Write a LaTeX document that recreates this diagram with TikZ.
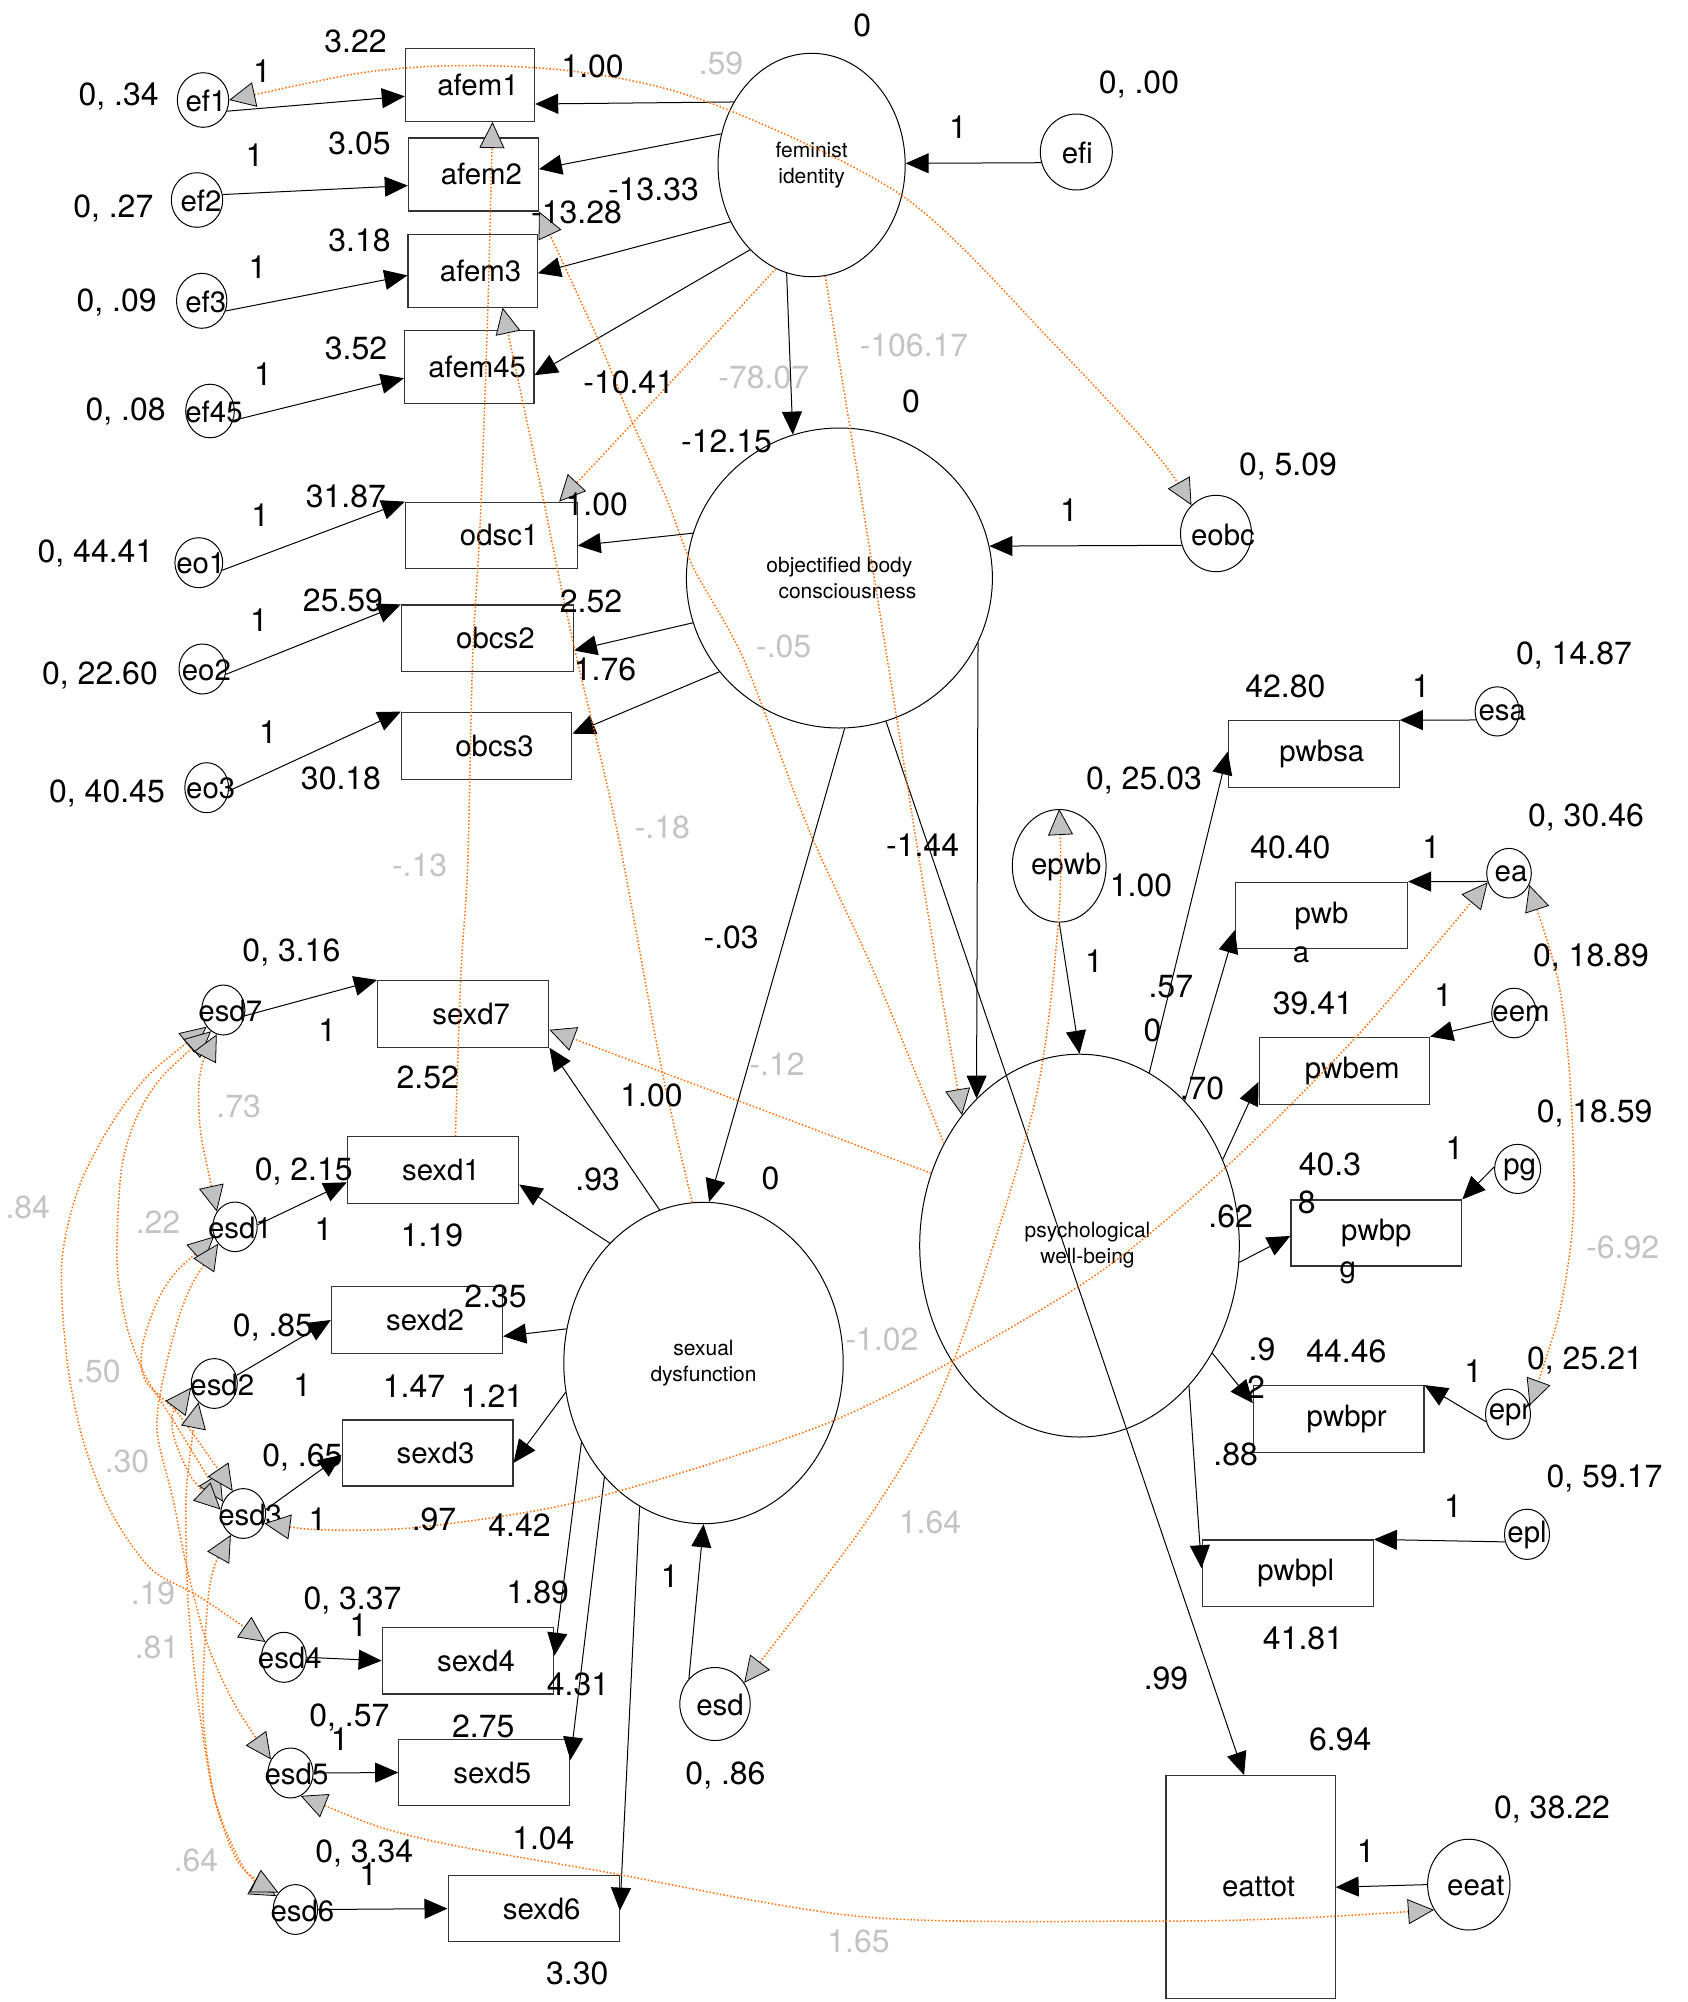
\documentclass[tikz,border=0pt]{standalone}
\usepackage{fontspec}
\setmainfont{TeX Gyre Heros}
\usetikzlibrary{arrows.meta,shapes.geometric,calc}
\definecolor{covor}{RGB}{255,110,10}
\definecolor{hgray}{RGB}{192,192,192}
\definecolor{lgray}{RGB}{195,195,195}
\tikzset{
 blk/.tip={Triangle[length=11.5pt,width=10pt]},
 gry/.tip={Triangle[length=13pt,width=12.5pt,fill=hgray,color=black,line width=0.4pt]},
 obs/.style={draw=black!80, line width=0.6pt, rectangle, inner sep=0pt, font=\fontsize{14.7}{16}\selectfont},
 lat/.style={draw, ellipse, line width=0.5pt, inner sep=0pt, align=center, font=\fontsize{10.5}{13}\selectfont},
 errc/.style={draw, ellipse, line width=0.5pt, inner sep=0pt},
 ntext/.style={inner sep=0pt, font=\fontsize{14.7}{16}\selectfont},
 lab/.style={inner sep=0pt, text height=11.4pt, text depth=0pt, font=\fontsize{16}{16}\selectfont},
 glab/.style={lab, text=lgray},
 pth/.style={line width=0.5pt, -blk},
 cov/.style={draw=covor, line width=0.75pt, dash pattern=on 0.75pt off 1pt},
 cov1/.style={cov, -gry},
 cov2/.style={cov, gry-gry},
}
\newcommand\ObsNode[6]{\node[obs,minimum width=#4pt,minimum height=#5pt] (#1) at (#2,#3) {\hspace*{8pt}#6};}
\newcommand\ErrNode[7]{\node[errc,minimum width=#4pt,minimum height=#5pt] (#1) at (#2,#3) {};\node[ntext] (#1t) at ($(#1)+(#7,1)$) {#6};}
\newcommand\LabB[4]{\node[lab] (#1) at (#2,#3) {#4};}
\newcommand\LabG[4]{\node[glab] (#1) at (#2,#3) {#4};}
\begin{document}
\begin{tikzpicture}[x=0.5pt,y=-0.5pt]
\useasboundingbox (0,0) rectangle (1687,2002);
% observed boxes
\ObsNode{afem1}{470}{85}{64.6}{36.4}{afem1}
\ObsNode{afem2}{473.4}{174.4}{65}{36.5}{afem2}
\ObsNode{afem3}{472.6}{270.6}{64.6}{36.5}{afem3}
\ObsNode{afem45}{469.2}{366.9}{64.7}{36.4}{afem45}
\ObsNode{odsc1}{491.2}{535.2}{85.9}{33}{odsc1}
\ObsNode{obcs2}{487.4}{638.2}{86}{33.2}{obcs2}
\ObsNode{obcs3}{486.6}{745.7}{85.2}{33.5}{obcs3}
\ObsNode{sexd7}{463.2}{1013.8}{85.6}{33.3}{sexd7}
\ObsNode{sexd1}{433}{1170.3}{85.6}{33.5}{sexd1}
\ObsNode{sexd2}{417}{1320}{85.6}{33.3}{sexd2}
\ObsNode{sexd3}{427.5}{1453}{85.4}{33}{sexd3}
\ObsNode{sexd4}{468}{1660.7}{85.8}{33.2}{sexd4}
\ObsNode{sexd5}{484.3}{1772.5}{85.5}{33.2}{sexd5}
\ObsNode{sexd6}{533.7}{1908.6}{85.6}{33}{sexd6}
\ObsNode{pwbsa}{1313.8}{754}{85.4}{33.3}{pwbsa}
\node[obs,minimum width=86pt,minimum height=33.3pt] (pwb) at (1321.5,915.5) {pwb};
\ObsNode{pwbem}{1344.3}{1070.7}{85.2}{33.5}{pwbem}
\node[obs,minimum width=85.4pt,minimum height=33pt] (pwbp) at (1376.3,1233) {pwbp};
\ObsNode{pwbpr}{1338.7}{1419.2}{85.2}{33.5}{pwbpr}
\ObsNode{pwbpl}{1287.7}{1573.2}{85.6}{33.2}{pwbpl}
\ObsNode{eattot}{1250.5}{1887.2}{84.6}{111.5}{eattot}
\node[ntext] (pwbwrap) at (1301,954.6) {a};
\node[ntext] (pwbpwrap) at (1347.8,1273) {g};
% latent
\node[lat,minimum width=93.6pt,minimum height=111.7pt] (FI) at (811.6,165) {feminist\\identity};
\node[lat,minimum width=153pt,minimum height=150pt] (OBC) at (839.4,578) {objectified body\\\hspace*{8pt}consciousness};
\node[lat,minimum width=139.7pt,minimum height=160.7pt] (SD) at (703.5,1363) {sexual\\dysfunction};
\node[lat,minimum width=159.8pt,minimum height=191.4pt] (PWB) at (1079.5,1245.6) {\hspace*{8pt}psychological\\\hspace*{8pt}well-being};
% errors
\ErrNode{ef1}{203}{100}{25.7}{27.3}{ef1}{3}
\ErrNode{ef2}{197}{200}{25.7}{27.3}{ef2}{4}
\ErrNode{ef3}{201.7}{300.8}{25.2}{27.5}{ef3}{4}
\ErrNode{ef45}{210}{411}{24.3}{26.8}{ef45}{4}
\ErrNode{eo1}{198.8}{562.7}{23.9}{25}{eo1}{2}
\ErrNode{eo2}{202.4}{669}{23.4}{25}{eo2}{4}
\ErrNode{eo3}{206.7}{787.7}{21.9}{25}{eo3}{4}
\ErrNode{efi}{1076.3}{152}{36}{38}{efi}{1}
\ErrNode{eobc}{1216}{533.5}{35.5}{38.2}{eobc}{7}
\ErrNode{epwb}{1059.2}{865.8}{46.9}{56.3}{epwb}{7}
\ErrNode{esd7}{223.3}{1010}{21.6}{25}{esd7}{7}
\ErrNode{esd1}{235}{1226.8}{22.2}{24.8}{esd1}{5}
\ErrNode{esd2}{214.3}{1383.5}{23}{24.9}{esd2}{8}
\ErrNode{esd3}{243.2}{1513.5}{22.4}{24.9}{esd3}{7}
\ErrNode{esd4}{283.8}{1657.3}{22.4}{25}{esd4}{6}
\ErrNode{esd5}{290.5}{1773}{22.6}{25}{esd5}{6}
\ErrNode{esd6}{295.4}{1909.5}{22.2}{24.9}{esd6}{7}
\ErrNode{esd}{715}{1704}{35.2}{36.5}{esd}{5}
\ErrNode{esa}{1497.2}{711.4}{22.1}{24.6}{esa}{5}
\ErrNode{ea}{1509}{873.2}{22.3}{24.8}{ea}{2}
\ErrNode{eem}{1514}{1013}{22.3}{24.8}{eem}{7}
\ErrNode{pg}{1517.6}{1168.9}{23}{24.6}{pg}{2}
\ErrNode{epr}{1508}{1414.2}{22.5}{25.1}{epr}{2}
\ErrNode{epl}{1527}{1534.3}{22.5}{25.1}{epl}{0}
\ErrNode{eeat}{1468.8}{1884.6}{41.2}{45.4}{eeat}{7}
% structural paths
\draw[pth] (FI.141) -- ($(afem1.east)+(0,19)$);
\draw[pth] (FI.161) -- ($(afem2.east)+(0,-5.3)$);
\draw[pth] (FI.215) -- ($(afem3.east)+(0,2.6)$);
\draw[pth] (FI.234) -- ($(afem45.east)+(0,8.3)$);
\draw[pth] (FI.257) -- (OBC.108);
\draw[pth] (OBC.163) -- ($(odsc1.east)+(0,10.4)$);
\draw[pth] (OBC.197) -- ($(obcs2.east)+(0,12.3)$);
\draw[pth] (OBC.218) -- ($(obcs3.east)+(0,-12)$);
\draw[pth] (OBC.272) -- (SD.88);
\draw[pth] (OBC.335) -- (PWB.125);
\draw[pth] (OBC.288) -- ($(eattot.north)+(-6.4,0)$);
\draw[pth] (efi.197) -- (FI.1);
\draw[pth] (eobc.199) -- (OBC.12);
\draw[pth] (epwb.south) -- (PWB.north);
\draw[pth] (PWB.68) -- ($(pwbsa.west)+(0,-2.5)$);
\draw[pth] (PWB.54) -- ($(pwb.west)+(0,14.5)$);
\draw[pth] (PWB.31) -- ($(pwbem.west)+(0,11.2)$);
\draw[pth] (PWB.354) -- ($(pwbp.west)+(0,2.9)$);
\draw[pth] (PWB.321) -- ($(pwbpr.west)+(0,-16)$);
\draw[pth] (PWB.308) -- ($(pwbpl.west)+(0,-5)$);
\draw[pth] (SD.106) -- (sexd7.south east);
\draw[pth] (SD.128) -- ($(sexd1.east)+(0,14.2)$);
\draw[pth] (SD.166) -- ($(sexd2.east)+(0,16.3)$);
\draw[pth] (SD.192) -- ($(sexd3.east)+(0,9.9)$);
\draw[pth] (SD.213) -- ($(sexd4.east)+(0,-5)$);
\draw[pth] (SD.229) -- ($(sexd5.east)+(0,-12.5)$);
\draw[pth] (SD.246) -- ($(sexd6.east)+(0,2)$);
\draw[pth] (esd.136) -- (SD.south);
% error paths
\draw[pth] (ef1.335) -- ($(afem1.west)+(0,11.3)$);
\draw[pth] (ef2.12) -- ($(afem2.west)+(0,11.2)$);
\draw[pth] (ef3.337) -- ($(afem3.west)+(0,4.8)$);
\draw[pth] (ef45.338) -- ($(afem45.west)+(0,11.3)$);
\draw[pth] (eo1.342) -- (odsc1.north west);
\draw[pth] (eo2.347) -- (obcs2.north west);
\draw[pth] (eo3.352) -- (obcs3.north west);
\draw[pth] (esd7.345) -- (sexd7.north west);
\draw[pth] (esd1.5) -- ($(sexd1.west)+(0,12)$);
\draw[pth] (esd2.20) -- (sexd2.west);
\draw[pth] (esd3.10) -- ($(sexd3.west)+(0,2)$);
\draw[pth] (esd4.east) -- (sexd4.west);
\draw[pth] (esd5.east) -- (sexd5.west);
\draw[pth] (esd6.east) -- (sexd6.west);
\draw[pth] (esa.202) -- (pwbsa.north east);
\draw[pth] (ea.201) -- (pwb.north east);
\draw[pth] (eem.201) -- (pwbem.north east);
\draw[pth] (pg.175) -- (pwbp.north east);
\draw[pth] (epr.199) -- (pwbpr.north east);
\draw[pth] (epl.199) -- (pwbpl.north east);
\draw[pth] (eeat.west) -- (eattot.east);
% covariance helper coordinates
\coordinate (cSa) at ($(sexd1.north)+(22.4,0)$);
\coordinate (cSb) at ($(afem1.south)+(22.5,0)$);
\coordinate (cSc) at ($(afem3.south)+(30,0)$);
\coordinate (cSd) at ($(odsc1.north)+(68,0)$);
\coordinate (cSe) at ($(sexd7.east)+(0,16)$);
% covariances
\draw[cov2] plot[smooth] coordinates {(ef1.east) (405,68) (562,70) (705,101) (904,197) (1057,347) (1157,455) (eobc.131)};
\draw[cov1] plot[smooth] coordinates {(cSa) (461,972) (467.7,865) (472.6,660) (480.3,520) (488,304) (cSb)};
\draw[cov1] plot[smooth] coordinates {(SD.94) (661,1066) (617,830) (576,655) (557,567) (540,483) (cSc)};
\draw[cov1] plot[smooth] coordinates {(PWB.143) (874,972) (809,830) (744,660) (693,567) (667,500) (630,417) (597,337) (afem2.south east)};
\draw[cov1] plot[smooth] coordinates {(FI.251) (670,383) (cSd)};
\draw[cov1] plot[smooth] coordinates {(FI.277) (858,477) (889,670) (923,883) (PWB.132)};
\draw[cov1] (PWB.154) -- (cSe);
\draw[cov2] plot[smooth] coordinates {(esd3.335) (330,1530) (421,1527) (560,1506) (700,1467) (835,1420) (954,1360) (1100,1272) (1224,1169) (1358,1035) (ea.203)};
\draw[cov2] plot[smooth] coordinates {(esd.36) (885,1493) (954,1360) (1034,1106) (1059,914) (epwb.north)};
\draw[cov2] plot[smooth] coordinates {(ea.330) (1564,1017) (1574,1196) (1560,1310) (epr.22)};
\draw[cov2] plot[smooth] coordinates {(esd5.294) (420,1838) (600,1871) (866,1917) (1160,1921) (1300,1918) (eeat.216)};
% left covariances among sexual dysfunction errors
\draw[cov2] plot[smooth] coordinates {(esd7.225) (133,1093) (83,1177) (62,1260) (67,1360) (83,1440) (110,1510) (150,1568) (200,1597) (esd4.140)};
\draw[cov2] plot[smooth] coordinates {(esd7.240) (150,1093) (123,1160) (117,1260) (127,1327) (145,1375) (173,1420) (esd3.150)};
\draw[cov2] plot[smooth] coordinates {(esd7.255) (200,1075) (200,1127) (208,1170) (esd1.140)};
\draw[cov2] plot[smooth] coordinates {(esd1.205) (165,1287) (143,1343) (145,1380) (180,1416) (esd3.115)};
\draw[cov2] plot[smooth] coordinates {(esd1.225) (185,1300) (165,1370) (157,1430) (173,1499) (187,1568) (207,1643) (235,1705) (esd5.145)};
\draw[cov2] plot[smooth] coordinates {(esd2.190) (172,1425) (190,1475) (esd3.170)};
\draw[cov2] plot[smooth] coordinates {(esd2.230) (192,1440) (186,1500) (188,1600) (198,1700) (215,1800) (245,1870) (esd6.145)};
\draw[cov2] plot[smooth] coordinates {(esd3.240) (212,1575) (206,1625) (203,1715) (215,1800) (240,1865) (esd6.135)};
% black labels
\LabB{b1}{355.5}{41.5}{3.22}
\LabB{b2}{262}{71.5}{1}
\LabB{b3}{118.6}{94.5}{0, .34}
\LabB{b4}{592.6}{66.4}{1.00}
\LabB{b5}{862.3}{25.2}{0}
\LabB{b6}{1139}{82}{0, .00}
\LabB{b7}{958}{126.6}{1}
\LabB{b8}{254.5}{154.8}{1}
\LabB{b9}{359.5}{143}{3.05}
\LabB{b10}{113.3}{206}{0, .27}
\LabB{b11}{653.6}{188.7}{-13.33}
\LabB{b12}{576.5}{212.5}{-13.28}
\LabB{b13}{257.6}{266.7}{1}
\LabB{b14}{359.5}{239.8}{3.18}
\LabB{b15}{116.7}{300}{0, .09}
\LabB{b16}{263}{373.9}{1}
\LabB{b17}{356}{348.3}{3.52}
\LabB{b18}{125.7}{409}{0, .08}
\LabB{b19}{628.7}{382.5}{-10.41}
\LabB{b20}{911}{401.2}{0}
\LabB{b21}{726.5}{441.5}{-12.15}
\LabB{b22}{1288}{464}{0, 5.09}
\LabB{b23}{1069}{509.6}{1}
\LabB{b24}{596.8}{504}{1.00}
\LabB{b25}{345.8}{495.7}{31.87}
\LabB{b26}{260.2}{515.2}{1}
\LabB{b27}{95.5}{550.8}{0, 44.41}
\LabB{b28}{591}{601.5}{2.52}
\LabB{b29}{343}{599.8}{25.59}
\LabB{b30}{259}{620}{1}
\LabB{b31}{100}{673.4}{0, 22.60}
\LabB{b32}{605}{669.5}{1.76}
\LabB{b33}{267.9}{732.3}{1}
\LabB{b34}{341}{778.3}{30.18}
\LabB{b35}{107}{790.8}{0, 40.45}
\LabB{b36}{731.2}{936.8}{-.03}
\LabB{b37}{922.6}{845.3}{-1.44}
\LabB{b38}{1144}{778}{0, 25.03}
\LabB{b39}{1141}{885.5}{1.00}
\LabB{b40}{1093.9}{961.3}{1}
\LabB{b41}{1170.8}{985.9}{.57}
\LabB{b42}{1152.4}{1030.5}{0}
\LabB{b43}{1202}{1088.5}{.70}
\LabB{b44}{1285.3}{685.9}{42.80}
\LabB{b45}{1420.9}{685.9}{1}
\LabB{b46}{1574}{652.7}{0, 14.87}
\LabB{b47}{1290.4}{846.6}{40.40}
\LabB{b48}{1431.3}{846.6}{1}
\LabB{b49}{1586}{815.3}{0, 30.46}
\LabB{b50}{1591}{955.5}{0, 18.89}
\LabB{b51}{1312.9}{1002.8}{39.41}
\LabB{b52}{1443.3}{994.8}{1}
\LabB{b53}{1594.6}{1110.9}{0, 18.59}
\LabB{b54}{1454.6}{1148}{1}
\LabB{b55}{1330}{1164.4}{40.3}
\LabB{b56}{1306.7}{1202.4}{8}
\LabB{b57}{1230.7}{1215.8}{.62}
\LabB{b58}{1262}{1349.3}{.9}
\LabB{b59}{1256}{1387}{2}
\LabB{b60}{1346.4}{1351.4}{44.46}
\LabB{b61}{1473.3}{1370.7}{1}
\LabB{b62}{1585}{1357.9}{0, 25.21}
\LabB{b63}{1235.7}{1454.3}{.88}
\LabB{b64}{1604.5}{1475.7}{0, 59.17}
\LabB{b65}{1453}{1505.7}{1}
\LabB{b66}{1303}{1637.7}{41.81}
\LabB{b67}{1166}{1678}{.99}
\LabB{b68}{1340.3}{1739.3}{6.94}
\LabB{b69}{1552}{1806.6}{0, 38.22}
\LabB{b70}{1365.8}{1850.7}{1}
\LabB{b71}{725.5}{1772.7}{0, .86}
\LabB{b72}{669.8}{1576.4}{1}
\LabB{b73}{543.4}{1837.9}{1.04}
\LabB{b74}{364.3}{1850.7}{0, 3.34}
\LabB{b75}{368.2}{1874.3}{1}
\LabB{b76}{577.3}{1973.1}{3.30}
\LabB{b77}{349.4}{1714.9}{0, .57}
\LabB{b78}{339.8}{1739.3}{1}
\LabB{b79}{483.2}{1726.5}{2.75}
\LabB{b80}{578}{1683.6}{4.31}
\LabB{b81}{352.5}{1597.9}{0, 3.37}
\LabB{b82}{358.6}{1624.9}{1}
\LabB{b83}{537.7}{1592.3}{1.89}
\LabB{b84}{434}{1518.6}{.97}
\LabB{b85}{317.6}{1518.6}{1}
\LabB{b86}{519.5}{1525}{4.42}
\LabB{b87}{302.3}{1455.2}{0, .65}
\LabB{b88}{492}{1396.4}{1.21}
\LabB{b89}{414}{1385.7}{1.47}
\LabB{b90}{302.3}{1384.9}{1}
\LabB{b91}{495.6}{1296.1}{2.35}
\LabB{b92}{273}{1325}{0, .85}
\LabB{b93}{323.4}{1229.2}{1}
\LabB{b94}{432}{1235}{1.19}
\LabB{b95}{303.7}{1168.9}{0, 2.15}
\LabB{b96}{427.7}{1077.4}{2.52}
\LabB{b97}{327.2}{1030.5}{1}
\LabB{b98}{291.4}{950.2}{0, 3.16}
\LabB{b99}{651.5}{1095.2}{1.00}
\LabB{b100}{597.7}{1178.7}{.93}
\LabB{b101}{770.5}{1177.8}{0}
% gray labels
\LabG{g1}{721}{63}{.59}
\LabG{g2}{763.8}{377.3}{-78.07}
\LabG{g3}{914}{344.8}{-106.17}
\LabG{g4}{783.7}{646.2}{-.05}
\LabG{g5}{419.6}{865.3}{-.13}
\LabG{g6}{662.4}{827.4}{-.18}
\LabG{g7}{777}{1064}{-.12}
\LabG{g8}{882}{1339}{-1.02}
\LabG{g9}{930}{1521.6}{1.64}
\LabG{g10}{858.5}{1940.8}{1.65}
\LabG{g11}{1622.6}{1247}{-6.92}
\LabG{g12}{27.8}{1206.8}{.84}
\LabG{g13}{158}{1221.6}{.22}
\LabG{g14}{238.6}{1106.4}{.73}
\LabG{g15}{98.5}{1370.7}{.50}
\LabG{g16}{127}{1460.7}{.30}
\LabG{g17}{153}{1592.7}{.19}
\LabG{g18}{157}{1647.2}{.81}
\LabG{g19}{196}{1860.2}{.64}
\end{tikzpicture}
\end{document}
